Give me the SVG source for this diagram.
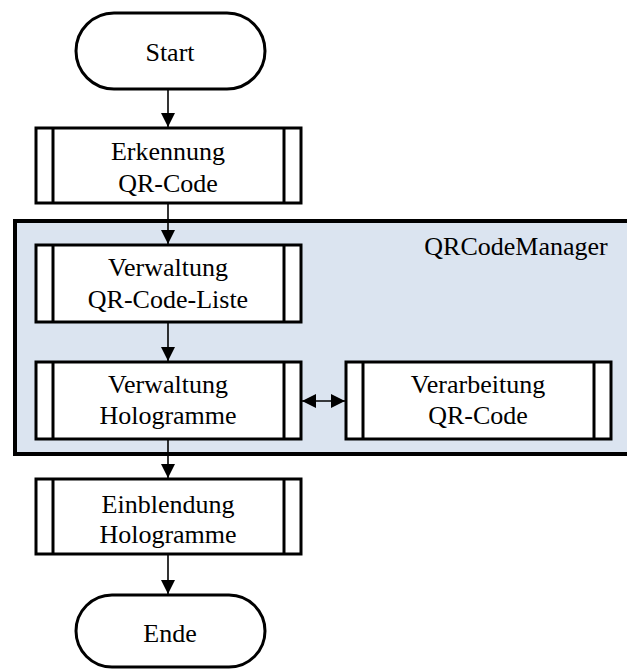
<svg xmlns="http://www.w3.org/2000/svg" width="627" height="669" viewBox="0 0 627 669">
<style>
.box{fill:#fff;stroke:#000;stroke-width:3}
.bar{stroke:#000;stroke-width:3}
.term{fill:#fff;stroke:#000;stroke-width:3}
.t{font-family:"Liberation Serif","Times New Roman",serif;font-size:26px;fill:#000;text-anchor:middle}
.con{stroke:#000;stroke-width:1.6;fill:none}
</style>
<defs>
<marker id="ah" viewBox="0 0 14 14" refX="14" refY="7" markerWidth="14" markerHeight="14" markerUnits="userSpaceOnUse" orient="auto-start-reverse">
<path d="M0,0 L14,7 L0,14 Z" fill="#000"/>
</marker>
</defs>
<rect id="container" x="15" y="221" width="630" height="233" fill="#dbe4f0" stroke="#000" stroke-width="4"/>
<text class="t" x="516" y="255">QRCodeManager</text>
<g id="start">
<rect class="term" x="76" y="13" width="189" height="76" rx="38" ry="38"/>
<text class="t" x="170" y="61">Start</text>
</g>
<g id="erkennung">
<rect class="box" x="36" y="128" width="265" height="75"/>
<line class="bar" x1="53" y1="128" x2="53" y2="203"/>
<line class="bar" x1="284" y1="128" x2="284" y2="203"/>
<text class="t" x="168" y="160">Erkennung</text>
<text class="t" x="168" y="192">QR-Code</text>
</g>
<g id="verwaltung-liste">
<rect class="box" x="36" y="245" width="265" height="77"/>
<line class="bar" x1="53" y1="245" x2="53" y2="322"/>
<line class="bar" x1="284" y1="245" x2="284" y2="322"/>
<text class="t" x="168" y="276">Verwaltung</text>
<text class="t" x="168" y="308">QR-Code-Liste</text>
</g>
<g id="verwaltung-hologramme">
<rect class="box" x="36" y="362" width="265" height="77"/>
<line class="bar" x1="53" y1="362" x2="53" y2="439"/>
<line class="bar" x1="284" y1="362" x2="284" y2="439"/>
<text class="t" x="168" y="393">Verwaltung</text>
<text class="t" x="168" y="424">Hologramme</text>
</g>
<g id="verarbeitung">
<rect class="box" x="346" y="362" width="265" height="77"/>
<line class="bar" x1="363" y1="362" x2="363" y2="439"/>
<line class="bar" x1="594" y1="362" x2="594" y2="439"/>
<text class="t" x="478" y="393">Verarbeitung</text>
<text class="t" x="478" y="424">QR-Code</text>
</g>
<g id="einblendung">
<rect class="box" x="36" y="479" width="265" height="75"/>
<line class="bar" x1="53" y1="479" x2="53" y2="554"/>
<line class="bar" x1="284" y1="479" x2="284" y2="554"/>
<text class="t" x="168" y="513">Einblendung</text>
<text class="t" x="168" y="543">Hologramme</text>
</g>
<g id="ende">
<rect class="term" x="76" y="595" width="189" height="72" rx="36" ry="36"/>
<text class="t" x="170" y="642">Ende</text>
</g>
<g id="connectors">
<line class="con" x1="168" y1="89" x2="168" y2="127" marker-end="url(#ah)"/>
<line class="con" x1="168" y1="203" x2="168" y2="244" marker-end="url(#ah)"/>
<line class="con" x1="168" y1="322" x2="168" y2="361" marker-end="url(#ah)"/>
<line class="con" x1="302" y1="401" x2="345" y2="401" marker-start="url(#ah)" marker-end="url(#ah)"/>
<line class="con" x1="168" y1="439" x2="168" y2="478" marker-end="url(#ah)"/>
<line class="con" x1="168" y1="554" x2="168" y2="594" marker-end="url(#ah)"/>
</g>
</svg>
